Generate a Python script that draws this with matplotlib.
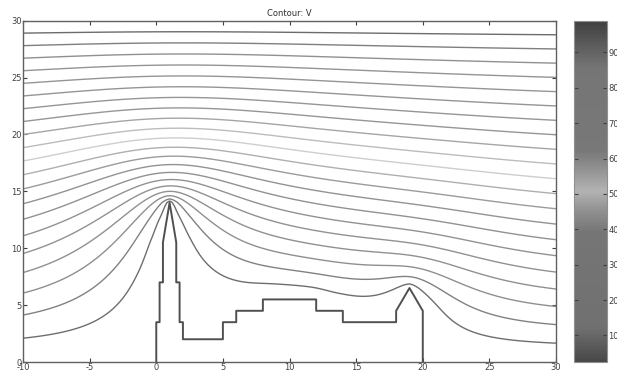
import numpy as np
import matplotlib
matplotlib.use("Agg")
import matplotlib.pyplot as plt
from matplotlib.path import Path
from matplotlib.colors import LinearSegmentedColormap, Normalize
from matplotlib.cm import ScalarMappable

plt.rcParams["axes.unicode_minus"] = False

# grounded conductor outline (x, y)
shape_x = [0, 0, 0.25, 0.25, 0.5, 0.5, 1, 1.5, 1.5, 1.75, 1.75, 2, 2, 5, 5, 6, 6, 8, 8,
           12, 12, 14, 14, 18, 18, 19, 20, 20]
shape_y = [0, 3.5, 3.5, 7, 7, 10.5, 14, 10.5, 7, 7, 3.5, 3.5, 2, 2, 3.5, 3.5, 4.5, 4.5, 5.5,
           5.5, 4.5, 4.5, 3.5, 3.5, 4.5, 6.5, 4.5, 0]

V_ground = 0.0
V_top = 100.0
n_levels = 21
# solve on a wider box than is shown
box_x = (-28.0, 50.0)
box_y = (0.0, 30.0)

# gray levels of the colour bar, bottom to top
cbar_pos = [0.0, 0.05, 0.10, 0.38, 0.44, 0.50, 0.56, 0.62, 0.86, 0.93, 1.0]
cbar_gray = [0.28, 0.36, 0.44, 0.46, 0.56, 0.70, 0.58, 0.47, 0.46, 0.36, 0.25]

# --- solve Laplace's equation on the box -------------------------------------
h = 0.25
x = np.arange(box_x[0], box_x[1] + h / 2, h)
y = np.arange(box_y[0], box_y[1] + h / 2, h)
X, Y = np.meshgrid(x, y)

poly = Path(np.column_stack([shape_x, shape_y]))
pts = np.column_stack([X.ravel(), Y.ravel()])
inside = poly.contains_points(pts, radius=0.01) | poly.contains_points(pts, radius=-0.01)
inside = inside.reshape(X.shape)

fixed = inside.copy()
fixed[0, :] = True
fixed[-1, :] = True

V = V_top * Y / box_y[1]
V[inside] = V_ground
V[0, :] = V_ground
V[-1, :] = V_top

ii, jj = np.meshgrid(np.arange(len(x)), np.arange(len(y)))
red = ((ii + jj) % 2 == 0)
omega = 1.96
for it in range(3000):
    for colour in (red, ~red):
        Vx = np.pad(V, ((0, 0), (1, 1)), mode="reflect")
        avg = 0.25 * (Vx[1:-1, :-2] + Vx[1:-1, 2:] + V[:-2, :] + V[2:, :])
        m = colour[1:-1] & ~fixed[1:-1]
        inner = V[1:-1]
        inner[m] += omega * (avg[m] - inner[m])

# --- plot --------------------------------------------------------------------
cmap = LinearSegmentedColormap.from_list(
    "graybar", [(p, (g, g, g)) for p, g in zip(cbar_pos, cbar_gray)])
norm = Normalize(2.5, 99.0)
levels = np.linspace(V_ground, V_top, n_levels + 2)[1:-1]

fig = plt.figure(figsize=(6.17, 3.76), dpi=100)
ax = fig.add_axes([0.0373, 0.0372, 0.8639, 0.908])

# lines a bit lighter than the bar, like the reference
line_cmap = LinearSegmentedColormap.from_list(
    "graylines", [(p, (min(g + 0.12, 1),) * 3) for p, g in zip(cbar_pos, cbar_gray)])
ax.contour(X, Y, V, levels=levels, cmap=line_cmap, norm=norm, linewidths=1.0)
ax.plot(shape_x, shape_y, color="#505050", lw=1.4)

ax.set_xlim(-10, 30)
ax.set_ylim(0, 30)
ax.set_xticks(np.arange(-10, 31, 5))
ax.set_yticks(np.arange(0, 31, 5))
ax.tick_params(direction="in", top=True, right=True, length=3, width=0.8,
               labelsize=6, pad=1, colors="#404040")
for s in ax.spines.values():
    s.set_color("#606060")
    s.set_linewidth(1.0)
ax.set_title("Contour: V", fontsize=6, pad=3, color="#303030")

cax = fig.add_axes([0.9303, 0.0372, 0.0535, 0.908])
cb = fig.colorbar(ScalarMappable(norm=norm, cmap=cmap), cax=cax)
cb.set_ticks(np.arange(10, 91, 10))
cax.tick_params(direction="in", left=True, right=True, length=3, width=0.8,
                labelsize=6, pad=1, colors="#404040")
cb.outline.set_edgecolor("#909090")

fig.savefig("out.png", dpi=100)
